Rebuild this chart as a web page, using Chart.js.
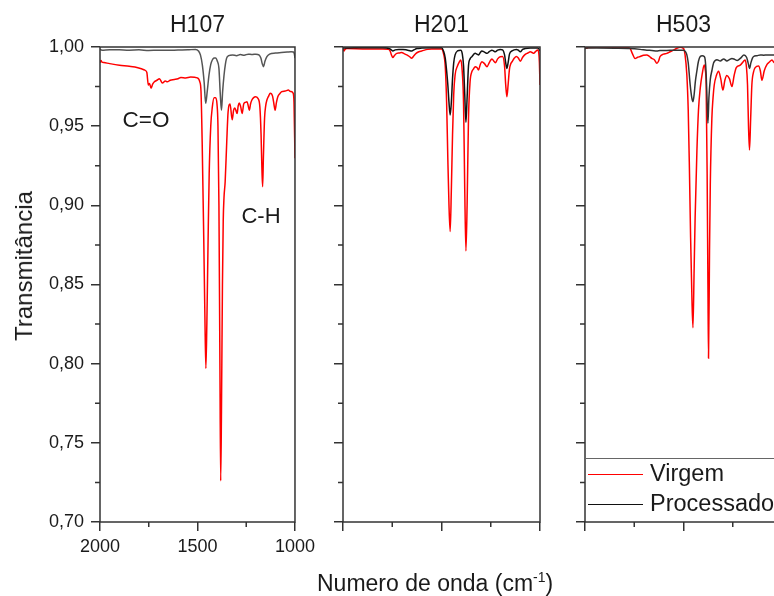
<!DOCTYPE html>
<html>
<head>
<meta charset="utf-8">
<script src="https://cdn.jsdelivr.net/npm/chart.js@4.4.1/dist/chart.umd.min.js"></script>
<style>
  html, body { margin: 0; padding: 0; background: #fff; }
  body { width: 774px; height: 596px; overflow: hidden; position: relative; font-family: "Liberation Sans", Arial, sans-serif; color: #1a1a1a; }
  canvas { position: absolute; top: 0; }
  .lbl { position: absolute; line-height: 1; white-space: nowrap; }
  .line { position: absolute; height: 0; }
</style>
</head>
<body>
<canvas id="panel1" width="320" height="596" style="left:0px"></canvas>
<canvas id="panel2" width="320" height="596" style="left:243px"></canvas>
<canvas id="panel3" width="320" height="596" style="left:485px"></canvas>

<div class="lbl" style="left:24px; top:266px; font-size:24px; transform: translate(-50%,-50%) rotate(-90deg);">Transmitância</div>
<div class="lbl" style="left:317px; top:583px; font-size:23px; transform: translate(0,-50%);">Numero de onda (cm<sup style="font-size:14px; line-height:0; vertical-align:9px;">-1</sup>)</div>
<div class="lbl" style="left:146px; top:120px; font-size:22.5px; transform: translate(-50%,-50%);">C=O</div>
<div class="lbl" style="left:261px; top:216px; font-size:22px; transform: translate(-50%,-50%);">C-H</div>

<!-- legend inside the third panel -->
<div class="line" style="left:585px; top:458px; width:200px; border-top:1px solid #666;"></div>
<div class="line" style="left:588px; top:474px; width:55px; border-top:1.5px solid #ff0000;"></div>
<div class="lbl" style="left:650px; top:474px; font-size:23.5px; transform: translate(0,-50%);">Virgem</div>
<div class="line" style="left:588px; top:504px; width:55px; border-top:1.5px solid #111;"></div>
<div class="lbl" style="left:650px; top:504px; font-size:23.5px; transform: translate(0,-50%);">Processado</div>

<script>
// axis ranges and ticks
const wnMin = 1000, wnMax = 2000;
const tMin = 0.70, tMax = 1.00;
const xMajorStep = 500;
const yMajorStep = 0.05;
const xMinorTicks = [1750, 1250];
const yMinorTicks = [0.725, 0.775, 0.825, 0.875, 0.925, 0.975];

// H107
const h107VirgemWn = [2000, 1995, 1990, 1980, 1950, 1900, 1850, 1806, 1772, 1760, 1752, 1746, 1738, 1730, 1721, 1708, 1695, 1680, 1665, 1655, 1640, 1619, 1600, 1585, 1560, 1535, 1501, 1488, 1482, 1476, 1468, 1462, 1457, 1452, 1446, 1440, 1432, 1424, 1415, 1407, 1400, 1395, 1390, 1385, 1381, 1377, 1372, 1368, 1364, 1358, 1350, 1343, 1333, 1322, 1315, 1309, 1303, 1297, 1291, 1285, 1278, 1271, 1263, 1255, 1246, 1240, 1234, 1228, 1221, 1212, 1203, 1190, 1180, 1174, 1170, 1166, 1162, 1156, 1150, 1144, 1135, 1127, 1115, 1108, 1102, 1095, 1088, 1078, 1068, 1050, 1034, 1025, 1017, 1010, 1005, 1000];
const h107VirgemT = [0.9900, 0.9915, 0.9905, 0.9902, 0.9895, 0.9885, 0.9878, 0.9869, 0.9855, 0.9840, 0.9760, 0.9770, 0.9740, 0.9765, 0.9780, 0.9790, 0.9800, 0.9772, 0.9785, 0.9780, 0.9790, 0.9795, 0.9800, 0.9808, 0.9805, 0.9810, 0.9805, 0.9780, 0.9720, 0.9400, 0.8800, 0.8300, 0.7970, 0.8250, 0.8750, 0.9200, 0.9500, 0.9620, 0.9680, 0.9680, 0.9640, 0.9500, 0.9000, 0.8000, 0.7260, 0.7700, 0.8500, 0.8900, 0.9050, 0.9150, 0.9400, 0.9590, 0.9640, 0.9540, 0.9600, 0.9615, 0.9600, 0.9580, 0.9630, 0.9646, 0.9620, 0.9580, 0.9640, 0.9650, 0.9655, 0.9630, 0.9600, 0.9640, 0.9665, 0.9680, 0.9686, 0.9675, 0.9620, 0.9450, 0.9250, 0.9118, 0.9300, 0.9550, 0.9630, 0.9665, 0.9690, 0.9708, 0.9690, 0.9640, 0.9600, 0.9650, 0.9686, 0.9705, 0.9718, 0.9722, 0.9728, 0.9720, 0.9718, 0.9710, 0.9650, 0.9297];
const h107ProcWn = [2000, 1990, 1950, 1900, 1850, 1800, 1750, 1700, 1650, 1600, 1550, 1510, 1495, 1485, 1475, 1466, 1458, 1450, 1441, 1432, 1424, 1415, 1407, 1398, 1390, 1383, 1377, 1371, 1364, 1357, 1351, 1340, 1320, 1300, 1280, 1260, 1240, 1220, 1200, 1185, 1175, 1168, 1161, 1154, 1144, 1130, 1100, 1070, 1040, 1020, 1008, 1003, 1000];
const h107ProcT = [0.9985, 0.9980, 0.9983, 0.9982, 0.9980, 0.9982, 0.9978, 0.9980, 0.9979, 0.9981, 0.9982, 0.9985, 0.9975, 0.9950, 0.9886, 0.9780, 0.9644, 0.9720, 0.9823, 0.9890, 0.9918, 0.9930, 0.9931, 0.9910, 0.9865, 0.9700, 0.9600, 0.9720, 0.9820, 0.9890, 0.9928, 0.9945, 0.9950, 0.9945, 0.9952, 0.9948, 0.9955, 0.9952, 0.9955, 0.9950, 0.9930, 0.9895, 0.9876, 0.9910, 0.9939, 0.9955, 0.9962, 0.9965, 0.9968, 0.9970, 0.9968, 0.9955, 0.9930];

// H201
const h201VirgemWn = [2000, 1995, 1990, 1980, 1900, 1800, 1770, 1761, 1754, 1747, 1740, 1727, 1715, 1702, 1690, 1676, 1663, 1651, 1640, 1629, 1615, 1600, 1570, 1541, 1510, 1499, 1490, 1481, 1474, 1468, 1462, 1456, 1450, 1444, 1438, 1431, 1419, 1410, 1402, 1395, 1388, 1382, 1376, 1370, 1363, 1355, 1346, 1338, 1329, 1320, 1312, 1303, 1295, 1282, 1269, 1256, 1244, 1235, 1227, 1215, 1202, 1190, 1180, 1174, 1168, 1162, 1155, 1148, 1142, 1130, 1120, 1110, 1100, 1088, 1075, 1062, 1049, 1040, 1032, 1022, 1012, 1006, 1003, 1000];
const h201VirgemT = [0.9990, 0.9975, 0.9985, 0.9990, 0.9988, 0.9987, 0.9985, 0.9975, 0.9950, 0.9933, 0.9945, 0.9960, 0.9962, 0.9965, 0.9958, 0.9950, 0.9940, 0.9929, 0.9945, 0.9960, 0.9970, 0.9975, 0.9985, 0.9987, 0.9988, 0.9987, 0.9960, 0.9878, 0.9650, 0.9300, 0.9000, 0.8834, 0.9100, 0.9444, 0.9700, 0.9823, 0.9880, 0.9905, 0.9918, 0.9850, 0.9640, 0.9100, 0.8712, 0.9000, 0.9550, 0.9780, 0.9844, 0.9860, 0.9876, 0.9870, 0.9855, 0.9890, 0.9907, 0.9895, 0.9876, 0.9905, 0.9925, 0.9912, 0.9900, 0.9925, 0.9939, 0.9940, 0.9880, 0.9760, 0.9686, 0.9760, 0.9860, 0.9895, 0.9907, 0.9930, 0.9940, 0.9930, 0.9910, 0.9935, 0.9953, 0.9962, 0.9970, 0.9965, 0.9960, 0.9972, 0.9981, 0.9960, 0.9900, 0.9760];
const h201ProcWn = [2000, 1990, 1900, 1800, 1765, 1755, 1747, 1735, 1717, 1700, 1680, 1665, 1651, 1638, 1625, 1600, 1550, 1499, 1490, 1481, 1474, 1468, 1462, 1456, 1450, 1444, 1438, 1431, 1419, 1402, 1395, 1388, 1382, 1376, 1370, 1363, 1355, 1346, 1329, 1320, 1312, 1303, 1295, 1282, 1269, 1256, 1244, 1235, 1227, 1215, 1202, 1190, 1180, 1174, 1168, 1162, 1155, 1142, 1120, 1110, 1100, 1088, 1075, 1049, 1012, 1004, 1000];
const h201ProcT = [0.9995, 0.9993, 0.9996, 0.9996, 0.9990, 0.9982, 0.9975, 0.9982, 0.9985, 0.9984, 0.9982, 0.9978, 0.9975, 0.9983, 0.9990, 0.9993, 0.9995, 0.9995, 0.9975, 0.9930, 0.9850, 0.9763, 0.9650, 0.9570, 0.9650, 0.9800, 0.9900, 0.9950, 0.9975, 0.9980, 0.9960, 0.9880, 0.9700, 0.9524, 0.9680, 0.9880, 0.9925, 0.9939, 0.9960, 0.9955, 0.9950, 0.9965, 0.9975, 0.9968, 0.9960, 0.9972, 0.9980, 0.9975, 0.9970, 0.9980, 0.9985, 0.9982, 0.9950, 0.9900, 0.9865, 0.9900, 0.9955, 0.9975, 0.9985, 0.9980, 0.9970, 0.9985, 0.9990, 0.9993, 0.9993, 0.9985, 0.9975];

// H503
const h503VirgemWn = [2000, 1996, 1991, 1985, 1941, 1850, 1790, 1771, 1760, 1746, 1733, 1720, 1703, 1686, 1673, 1661, 1648, 1635, 1627, 1619, 1602, 1585, 1568, 1551, 1534, 1517, 1500, 1492, 1483, 1476, 1470, 1464, 1457, 1452, 1446, 1441, 1432, 1424, 1415, 1405, 1395, 1390, 1385, 1380, 1376, 1373, 1368, 1364, 1356, 1350, 1344, 1333, 1322, 1311, 1300, 1290, 1280, 1267, 1254, 1243, 1232, 1212, 1195, 1187, 1181, 1175, 1170, 1165, 1159, 1153, 1145, 1136, 1119, 1110, 1102, 1090, 1076, 1064, 1051, 1039, 1020, 1000];
const h503VirgemT = [0.9990, 0.9998, 0.9992, 0.9997, 0.9998, 0.9998, 0.9998, 0.9990, 0.9960, 0.9928, 0.9935, 0.9940, 0.9948, 0.9950, 0.9940, 0.9928, 0.9920, 0.9897, 0.9910, 0.9940, 0.9955, 0.9960, 0.9970, 0.9980, 0.9992, 0.9998, 0.9990, 0.9950, 0.9823, 0.9600, 0.9236, 0.8800, 0.8400, 0.8227, 0.8600, 0.8920, 0.9340, 0.9600, 0.9740, 0.9830, 0.9887, 0.9860, 0.9760, 0.9200, 0.8500, 0.8034, 0.8700, 0.9128, 0.9550, 0.9680, 0.9760, 0.9820, 0.9847, 0.9800, 0.9728, 0.9790, 0.9820, 0.9800, 0.9750, 0.9820, 0.9870, 0.9885, 0.9910, 0.9918, 0.9880, 0.9760, 0.9500, 0.9350, 0.9550, 0.9760, 0.9840, 0.9870, 0.9880, 0.9850, 0.9790, 0.9850, 0.9890, 0.9905, 0.9918, 0.9900, 0.9905, 0.9880];
const h503ProcWn = [2000, 1990, 1940, 1850, 1771, 1720, 1686, 1661, 1635, 1619, 1585, 1551, 1517, 1500, 1490, 1483, 1476, 1466, 1458, 1452, 1446, 1440, 1432, 1424, 1415, 1405, 1395, 1390, 1385, 1380, 1376, 1371, 1364, 1356, 1347, 1330, 1313, 1296, 1280, 1267, 1254, 1240, 1227, 1210, 1193, 1180, 1172, 1165, 1158, 1150, 1144, 1127, 1110, 1093, 1076, 1059, 1042, 1020, 1000];
const h503ProcT = [0.9990, 0.9993, 0.9993, 0.9992, 0.9990, 0.9985, 0.9980, 0.9978, 0.9975, 0.9978, 0.9978, 0.9980, 0.9980, 0.9980, 0.9970, 0.9950, 0.9900, 0.9760, 0.9680, 0.9655, 0.9700, 0.9780, 0.9850, 0.9910, 0.9940, 0.9945, 0.9940, 0.9920, 0.9830, 0.9650, 0.9518, 0.9680, 0.9795, 0.9850, 0.9900, 0.9920, 0.9912, 0.9925, 0.9912, 0.9920, 0.9928, 0.9922, 0.9915, 0.9930, 0.9950, 0.9935, 0.9900, 0.9865, 0.9900, 0.9930, 0.9940, 0.9945, 0.9950, 0.9948, 0.9950, 0.9950, 0.9950, 0.9950, 0.9945];

const fontFamily = '"Liberation Sans", Arial, sans-serif';
const textColor = "#1a1a1a";
const axisColor = "#333333";
const virgemColor = "#ff0000";

Chart.defaults.font.family = fontFamily;
Chart.defaults.color = textColor;

function toPoints(wn, t) {
  return wn.map((w, i) => ({ x: w, y: t[i] }));
}

// box around the plot + short minor ticks
const framePlugin = {
  id: "frame",
  afterDatasetsDraw(chart) {
    const { ctx, chartArea: a, scales } = chart;
    ctx.save();
    ctx.strokeStyle = axisColor;
    ctx.lineWidth = 1.5;
    ctx.strokeRect(a.left, a.top, a.right - a.left, a.bottom - a.top);
    ctx.beginPath();
    xMinorTicks.forEach((v) => {
      const px = scales.x.getPixelForValue(v);
      ctx.moveTo(px, a.bottom);
      ctx.lineTo(px, a.bottom + 5);
    });
    yMinorTicks.forEach((v) => {
      const py = scales.y.getPixelForValue(v);
      ctx.moveTo(a.left, py);
      ctx.lineTo(a.left - 5, py);
    });
    ctx.stroke();
    ctx.restore();
  },
};

function makePanel(id, title, virgemWn, virgemT, procWn, procT, procColor, showLabels) {
  return new Chart(document.getElementById(id), {
    type: "line",
    data: {
      datasets: [
        {
          label: "Virgem",
          data: toPoints(virgemWn, virgemT),
          borderColor: virgemColor,
          borderWidth: 1.5,
          pointRadius: 0,
          cubicInterpolationMode: "monotone",
          order: 1,
        },
        {
          label: "Processado",
          data: toPoints(procWn, procT),
          borderColor: procColor,
          borderWidth: 1.5,
          pointRadius: 0,
          cubicInterpolationMode: "monotone",
          order: 0,
        },
      ],
    },
    options: {
      responsive: false,
      animation: false,
      devicePixelRatio: 1,
      layout: { padding: { left: 0, right: 23, top: 0, bottom: 0 } },
      plugins: {
        legend: { display: false },
        tooltip: { enabled: false },
        title: {
          display: true,
          text: title,
          fullSize: false,
          color: textColor,
          font: { size: 23, weight: "normal" },
          padding: { top: 12, bottom: 7.4 },
        },
      },
      scales: {
        x: {
          type: "linear",
          reverse: true,
          min: wnMin,
          max: wnMax,
          afterFit: (scale) => { scale.height = 74; },
          border: { display: false },
          grid: { drawOnChartArea: false, drawTicks: true, tickLength: 9, color: axisColor, lineWidth: 1.5 },
          ticks: {
            stepSize: xMajorStep,
            padding: 5,
            maxRotation: 0,
            font: { size: 18 },
            color: textColor,
            callback: (value) => (showLabels ? String(value) : ""),
          },
        },
        y: {
          min: tMin,
          max: tMax,
          afterFit: (scale) => { scale.width = 100; },
          border: { display: false },
          grid: { drawOnChartArea: false, drawTicks: true, tickLength: 9, color: axisColor, lineWidth: 1.5 },
          ticks: {
            stepSize: yMajorStep,
            padding: 7,
            font: { size: 18 },
            color: textColor,
            callback: (value) => (showLabels ? value.toFixed(2).replace(".", ",") : ""),
          },
        },
      },
    },
    plugins: [framePlugin],
  });
}

makePanel("panel1", "H107", h107VirgemWn, h107VirgemT, h107ProcWn, h107ProcT, "#555555", true);
makePanel("panel2", "H201", h201VirgemWn, h201VirgemT, h201ProcWn, h201ProcT, "#111111", false);
makePanel("panel3", "H503", h503VirgemWn, h503VirgemT, h503ProcWn, h503ProcT, "#333333", false);
</script>
</body>
</html>
